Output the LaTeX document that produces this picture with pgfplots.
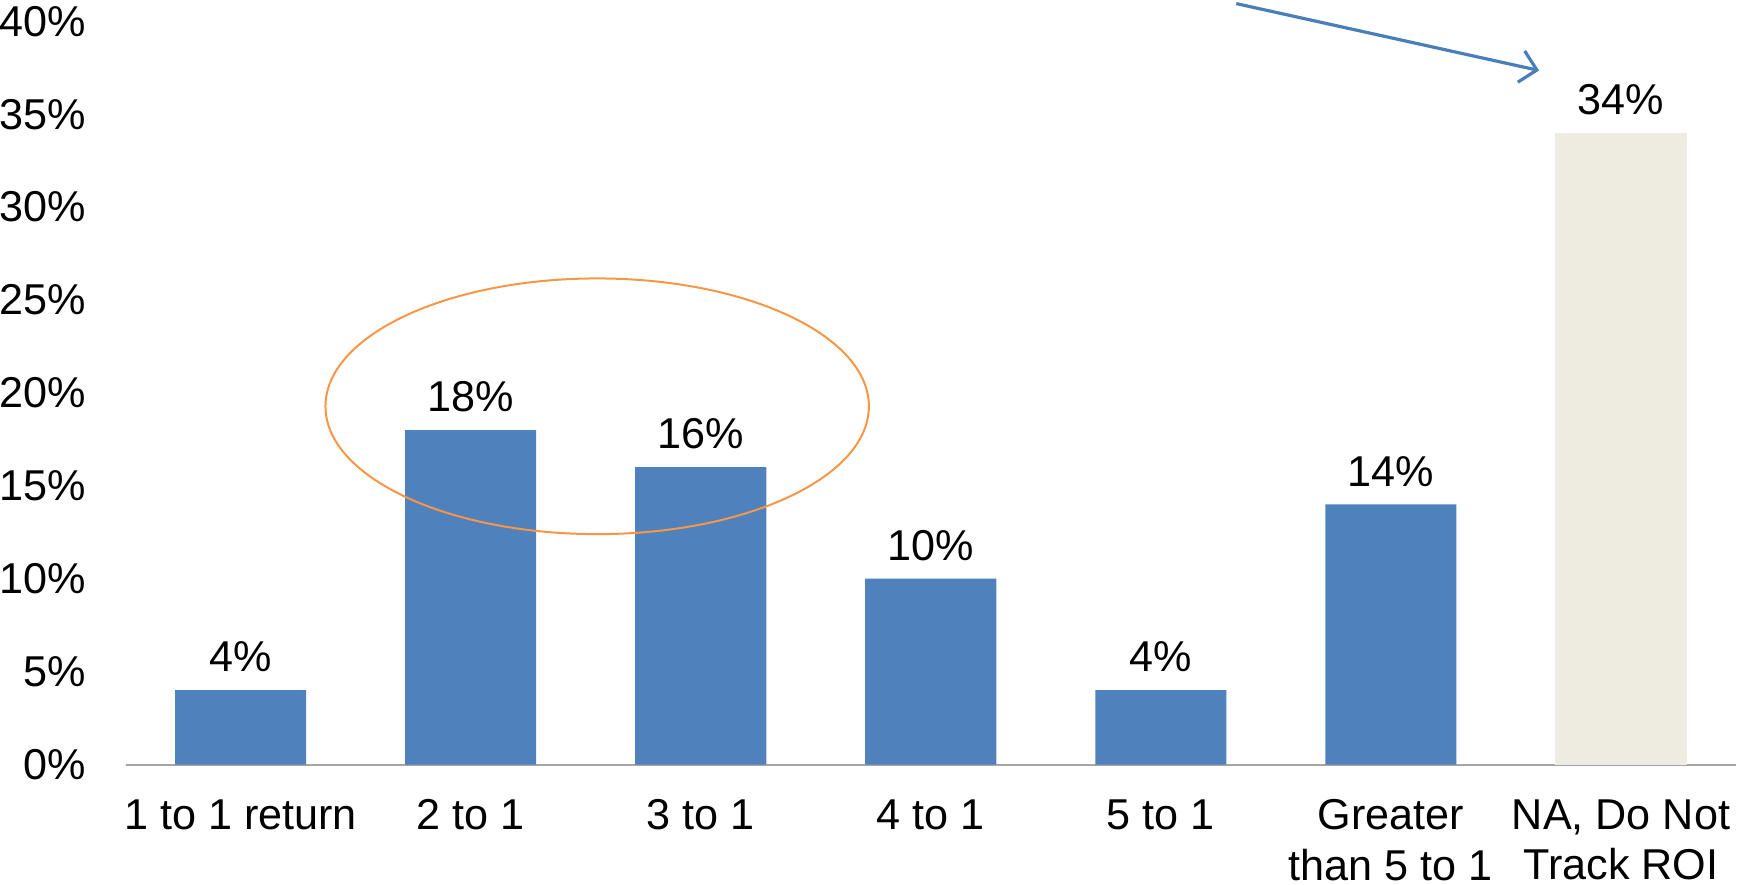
\documentclass[border={0pt 1pt 0pt 0.5pt}]{standalone}
\usepackage{fontspec}
\setmainfont{Liberation Sans}
\usepackage{pgfplots}
\pgfplotsset{compat=1.18}
\usetikzlibrary{arrows.meta}
\definecolor{barblue}{HTML}{4F81BD}
\definecolor{bartan}{HTML}{EEECE1}
\definecolor{ellorange}{HTML}{F79646}
\definecolor{arrowblue}{HTML}{4A7EBB}
\begin{document}
\begin{tikzpicture}[font=\fontsize{10.8}{12.7}\selectfont]
\begin{axis}[
  scale only axis,
  width=403pt, height=186pt,
  xmin=-0.5, xmax=6.5,
  ymin=0, ymax=40,
  axis x line*=bottom,
  axis y line*=left,
  x axis line style={draw=black!35, line width=0.5pt},
  y axis line style={draw=none},
  major tick length=0pt,
  xtick={0,1,2,3,4,5,6},
  xticklabels={1 to 1 return, 2 to 1, 3 to 1, 4 to 1, 5 to 1, {Greater\\than 5 to 1}, {NA, Do Not\\Track ROI}},
  xticklabel style={align=center, anchor=north, inner sep=0pt, yshift=-8.5pt},
  ytick={0,5,10,15,20,25,30,35,40},
  yticklabels={0\%,5\%,10\%,15\%,20\%,25\%,30\%,35\%,40\%},
  yticklabel style={anchor=east, inner sep=0pt, xshift=-9.6pt},
  ybar, bar width=0.57, bar shift=0pt,
  nodes near coords={\pgfmathprintnumber{\pgfplotspointmeta}\%},
  nodes near coords style={anchor=south, yshift=1pt, /pgf/number format/assume math mode=true},
  /pgf/number format/assume math mode=true,
  clip=false,
]
\addplot[fill=barblue, draw=none] coordinates {(0,4) (1,18) (2,16) (3,10) (4,4) (5,14)};
\addplot[fill=bartan, draw=none] coordinates {(6,34)};
\draw[ellorange, line width=0.5pt] (axis cs:1.55,19.28) ellipse [x radius=1.181, y radius=6.88];
\draw[arrowblue, line width=0.8pt, -{Straight Barb[length=4pt, width=8pt]}] (axis cs:4.328,40.95) -- (axis cs:5.644,37.35);
\end{axis}
\end{tikzpicture}
\end{document}
